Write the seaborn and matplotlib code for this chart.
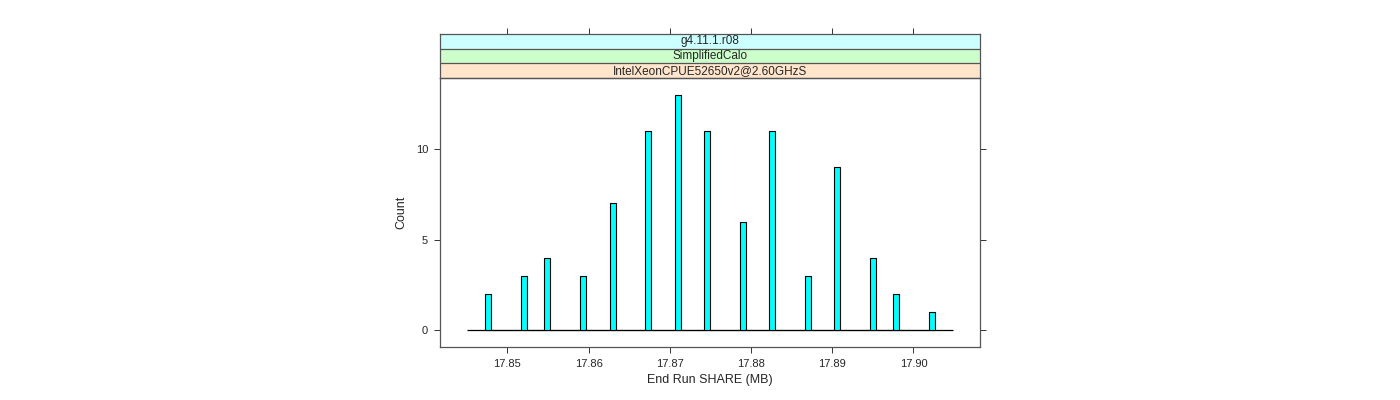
import numpy as np
import matplotlib
matplotlib.use("Agg")
import matplotlib.pyplot as plt
import seaborn as sns

# Bar centres (MB) and counts.
share_mb = [17.84766, 17.85209, 17.85493, 17.85936, 17.86298, 17.86736, 17.87099, 17.87463,
            17.87899, 17.88264, 17.88703, 17.89064, 17.89504, 17.89791, 17.90234]
counts = [2, 3, 4, 3, 7, 11, 13, 11, 6, 11, 3, 9, 4, 2, 1]
x_ticks = [17.85, 17.86, 17.87, 17.88, 17.89, 17.90]
y_ticks = [0, 5, 10]
strip_labels = ["g4.11.1.r08", "SimplifiedCalo", "IntelXeonCPUE52650v2@2.60GHzS"]
strip_colors = ["#ccffff", "#ccffcc", "#ffe5cc"]

bin_w = 0.00074
hist_lo, hist_hi = 17.84504, 17.90489

sns.set_style("white")
plt.rcParams["font.family"] = ["Liberation Sans", "DejaVu Sans"]

fig = plt.figure(figsize=(14, 4), dpi=100)
ax = fig.add_axes([440 / 1400, 1 - 347 / 400, 540 / 1400, 269 / 400])
strip_ax = fig.add_axes([440 / 1400, 1 - 78 / 400, 540 / 1400, 44 / 400])

edges = []
for c in share_mb:
    edges += [c - bin_w / 2, c + bin_w / 2]

sns.histplot(x=share_mb, weights=counts, bins=edges, ax=ax, color="#00ffff",
             edgecolor="black", linewidth=0.8, alpha=1.0)
ax.hlines(0, hist_lo, hist_hi, color="black", linewidth=0.9, zorder=0)

xlim = (17.8417, 17.9082)
ax.set_xlim(*xlim)
ax.set_ylim(-0.91, 13.91)
ax.set_xticks(x_ticks)
ax.set_xticklabels(["%.2f" % v for v in x_ticks])
ax.set_yticks(y_ticks)
ax.tick_params(axis="both", direction="out", length=4.5, width=0.7, color="#333333",
               labelsize=8, pad=4)
ax.tick_params(axis="y", right=True, left=True)
ax.tick_params(axis="x", bottom=True, top=False)
ax.set_xlabel("End Run SHARE (MB)", fontsize=9)
ax.set_ylabel("Count", fontsize=9, labelpad=6)
for s in ax.spines.values():
    s.set_color("#555555")
    s.set_linewidth(0.9)

# strips on top of the panel
strip_ax.set_xlim(*xlim)
strip_ax.set_ylim(0, 3)
for i, (lab, col) in enumerate(zip(strip_labels, strip_colors)):
    y0 = 2 - i
    strip_ax.axhspan(y0, y0 + 1, color=col, zorder=0)
    strip_ax.axhline(y0, color="#555555", linewidth=0.9)
    strip_ax.text(np.mean(xlim), y0 + 0.5, lab, ha="center", va="center", fontsize=8.5)
strip_ax.set_yticks([])
strip_ax.set_xticks(x_ticks)
strip_ax.tick_params(axis="x", top=True, bottom=False, labeltop=False, labelbottom=False,
                     direction="out", length=4.5, width=0.7, color="#333333")
for s in strip_ax.spines.values():
    s.set_color("#555555")
    s.set_linewidth(0.9)

fig.savefig("out.png", dpi=100)
